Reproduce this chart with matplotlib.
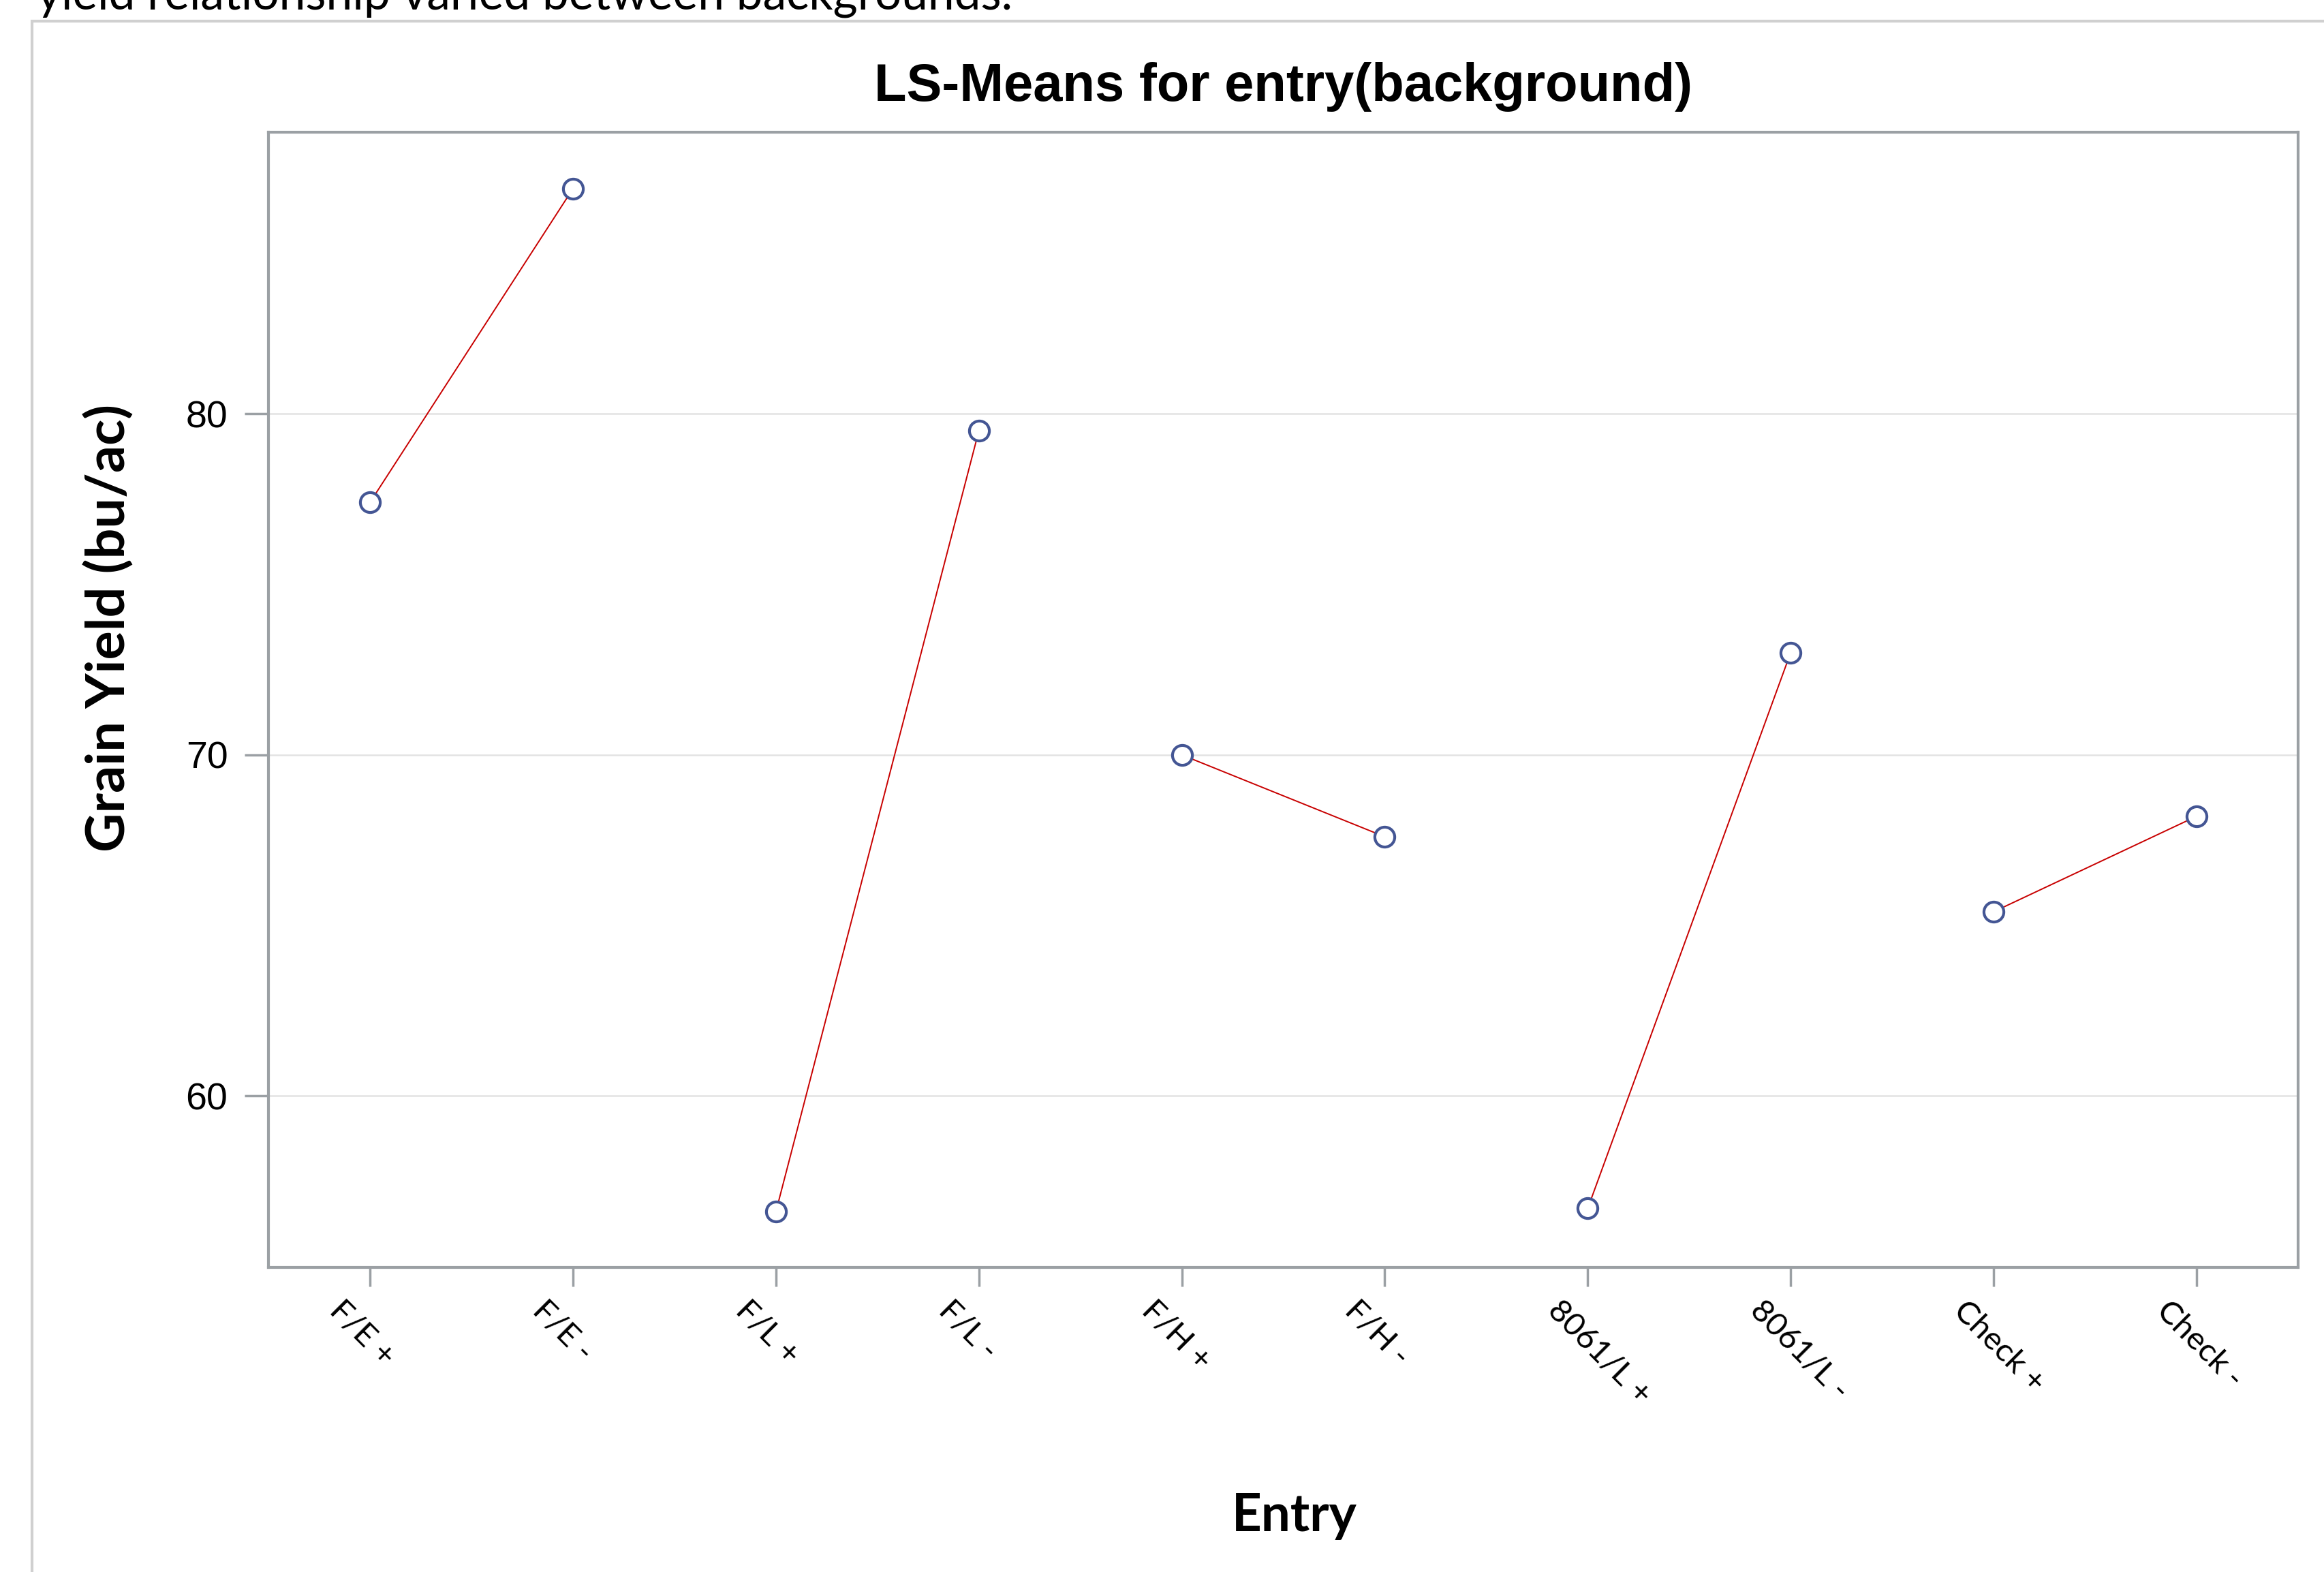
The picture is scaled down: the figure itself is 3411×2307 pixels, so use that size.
import matplotlib
matplotlib.use("Agg")
import matplotlib.pyplot as plt
from matplotlib.patches import Rectangle
from matplotlib.transforms import ScaledTranslation

# ---- data ----
entries = ["F/E +", "F/E -", "F/L +", "F/L -", "F/H +", "F/H -",
           "8061/L +", "8061/L -", "Check +", "Check -"]
yield_means = [77.4, 86.6, 56.6, 79.5, 70.0, 67.6, 56.7, 73.0, 65.4, 68.2]
y_ticks = [60, 70, 80]
pairs = [(0, 1), (2, 3), (4, 5), (6, 7), (8, 9)]

W, H, DPI = 3412, 2307, 100
fig = plt.figure(figsize=(W / DPI, H / DPI), dpi=DPI)
fig.patch.set_facecolor("white")

# page frame (document screenshot border)
fig.patches.append(Rectangle((47 / W, -0.1), 1.2, 1 - 31 / H + 0.1,
                             transform=fig.transFigure, fill=False,
                             edgecolor="#d0d0d0", linewidth=3.0))
# clipped page text at the top
fig.text(54 / W, 1 - 13 / H, "yield relationship varied between backgrounds.",
         family="Lato", fontsize=50, va="baseline", ha="left", color="black")

ax = fig.add_axes([394 / W, 1 - 1860 / H, (3373 - 394) / W, (1860 - 194) / H])

x = list(range(len(entries)))
for a, b in pairs:
    ax.plot([x[a], x[b]], [yield_means[a], yield_means[b]], color="#c80000",
            linewidth=1.4, zorder=2)
ax.plot(x, yield_means, linestyle="none", marker="o", markersize=21,
        markerfacecolor="white", markeredgecolor="#445694",
        markeredgewidth=3.0, zorder=3)

ax.set_xlim(-0.5, 9.5)
ax.set_ylim(54.97, 88.26)
ax.set_yticks(y_ticks)
ax.set_yticklabels([str(v) for v in y_ticks], family="Liberation Sans",
                   fontsize=40)
ax.set_xticks(x)
ax.grid(axis="y", color="#e2e2e2", linewidth=1.8, zorder=0)
ax.set_axisbelow(True)

spine_c = "#9ba0a4"
for s in ax.spines.values():
    s.set_color(spine_c)
    s.set_linewidth(3.0)
ax.tick_params(axis="x", direction="out", length=20, width=2.5,
               color=spine_c, pad=10)
ax.tick_params(axis="y", direction="out", length=25, width=2.5,
               color=spine_c, pad=18)

ax.set_xticklabels(entries, family="Lato", fontsize=34, rotation=-45,
                   ha="left", va="top", rotation_mode="anchor")
shift = ScaledTranslation(-37 / DPI, 0, fig.dpi_scale_trans)
for lab in ax.get_xticklabels():
    lab.set_transform(lab.get_transform() + shift)

fig.text(1884 / W, 1 - 148 / H, "LS-Means for entry(background)",
         family="Liberation Sans", fontweight="bold", fontsize=56,
         ha="center", va="baseline")
fig.text(160 / W, 1 - 922 / H, "Grain Yield (bu/ac)", family="Lato",
         fontweight="bold", fontsize=57, rotation=90, ha="center", va="center")
fig.text(1900 / W, 1 - 2225 / H, "Entry", family="Lato", fontweight="bold",
         fontsize=55, ha="center", va="center")

fig.savefig("out.png", dpi=DPI, facecolor="white")
